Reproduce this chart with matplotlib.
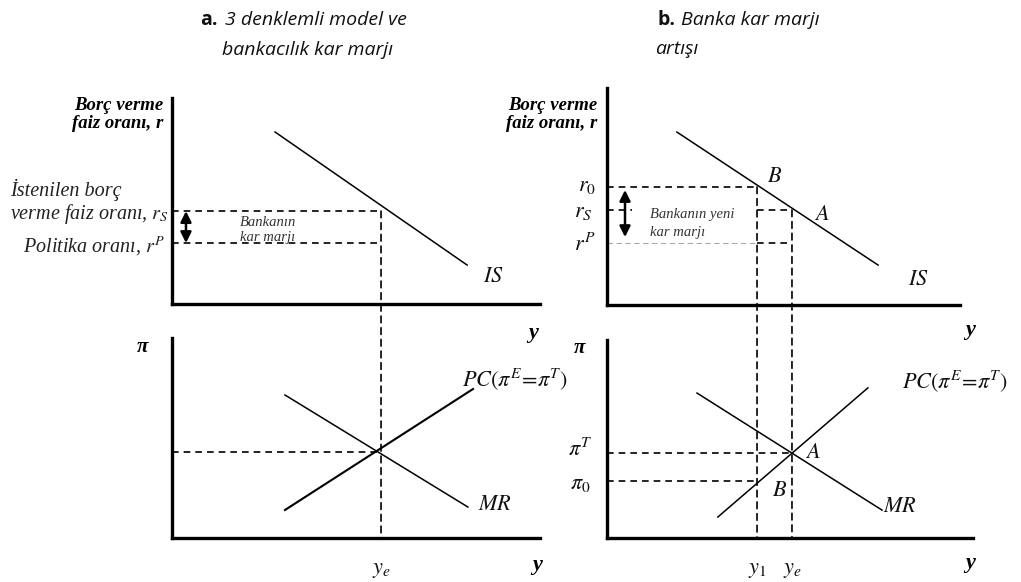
import matplotlib.pyplot as plt
from matplotlib.patches import ConnectionPatch

plt.rcParams['mathtext.fontset'] = 'stix'
plt.rcParams['font.family'] = ['Liberation Serif', 'DejaVu Serif']

W, H = 1021, 582

# panel a: IS, PC and MR lines (x = output y, vertical = r or pi)
is_a_y = [2.80, 8.02]
is_a_r = [8.35, 1.89]
pc_a_y = [3.07, 8.18]
pc_a_pi = [1.40, 7.45]
mr_a_y = [3.07, 8.04]
mr_a_pi = [7.15, 1.55]
rS_a, rP_a = 4.51, 2.96
ye_a = 5.68
piT_a = 4.30

# panel b: higher bank margin
is_b_y = [1.98, 7.68]
is_b_r = [7.97, 1.84]
pc_b_y = [3.14, 7.39]
pc_b_pi = [1.06, 7.58]
mr_b_y = [2.55, 7.79]
mr_b_pi = [7.32, 1.41]
r0_b, rS_b, rP_b = 5.44, 4.38, 2.86
y1_b, ye_b = 4.25, 5.24
piT_b, pi0_b = 4.29, 2.88

fig = plt.figure(figsize=(W / 100, H / 100), dpi=100)


def panel(left, top, right, bottom, xmax):
    ax = fig.add_axes([left / W, 1 - bottom / H, (right - left) / W, (bottom - top) / H])
    ax.set_xlim(0, xmax)
    ax.set_ylim(0, 10)
    for s in ('top', 'right'):
        ax.spines[s].set_visible(False)
    for s in ('left', 'bottom'):
        ax.spines[s].set_linewidth(2.4)
    ax.set_xticks([])
    ax.set_yticks([])
    ax.patch.set_alpha(0)
    return ax


def ftext(x, y, s, **kw):
    # text placed in pixel position on the figure
    kw.setdefault('va', 'center')
    fig.text(x / W, 1 - y / H, s, **kw)


ax_at = panel(172, 98, 540, 304, 10)
ax_ab = panel(172, 338, 540, 538, 10)
ax_bt = panel(607, 88, 960, 305, 10)
ax_bb = panel(607, 340, 973, 538, 366 / 35.3)

dash = dict(color='black', lw=1.2, ls=(0, (4, 3)))
arrow = dict(arrowstyle='<|-|>', color='black', lw=1.8, mutation_scale=16,
             shrinkA=0, shrinkB=0)

# ---- panel a, top
ax_at.plot(is_a_y, is_a_r, color='black', lw=1.1)
ax_at.plot([0, ye_a], [rS_a, rS_a], **dash)
ax_at.plot([0, ye_a], [rP_a, rP_a], **dash)
ax_at.annotate('', xy=(0.38, rP_a), xytext=(0.38, rS_a), arrowprops=arrow)
ax_at.text(1.85, rS_a - 0.55, 'Bankanın', fontsize=10.5, style='italic',
           color='#333', va='center')
ax_at.text(1.85, rP_a + 0.25, 'kar marjı', fontsize=10.5, style='italic',
           color='#333', va='center')

# ---- panel a, bottom
ax_ab.plot(pc_a_y, pc_a_pi, color='black', lw=1.5)
ax_ab.plot(mr_a_y, mr_a_pi, color='black', lw=1.1)
ax_ab.plot([0, ye_a], [piT_a, piT_a], **dash)
fig.add_artist(ConnectionPatch(xyA=(ye_a, rS_a), coordsA=ax_at.transData,
                               xyB=(ye_a, 0), coordsB=ax_ab.transData,
                               arrowstyle='-', **dash))

# ---- panel b, top
ax_bt.plot(is_b_y, is_b_r, color='black', lw=1.1)
ax_bt.plot([0, y1_b], [r0_b, r0_b], **dash)
ax_bt.plot([0, 0.7], [rS_b, rS_b], **dash)
ax_bt.plot([y1_b, ye_b], [rS_b, rS_b], **dash)
ax_bt.plot([0, y1_b], [rP_b, rP_b], color='#aaa', lw=0.8, ls=(0, (5, 3)))
ax_bt.plot([y1_b, ye_b], [rP_b, rP_b], **dash)
ax_bt.annotate('', xy=(0.51, 3.13), xytext=(0.51, 5.30), arrowprops=arrow)
ax_bt.text(1.22, 4.15, 'Bankanın yeni', fontsize=10.5, style='italic',
           color='#333', va='center')
ax_bt.text(1.22, 3.35, 'kar marjı', fontsize=10.5, style='italic',
           color='#333', va='center')

# ---- panel b, bottom
ax_bb.plot(pc_b_y, pc_b_pi, color='black', lw=1.1)
ax_bb.plot(mr_b_y, mr_b_pi, color='black', lw=1.1)
ax_bb.plot([0, ye_b], [piT_b, piT_b], **dash)
ax_bb.plot([0, y1_b], [pi0_b, pi0_b], **dash)
fig.add_artist(ConnectionPatch(xyA=(y1_b, r0_b), coordsA=ax_bt.transData,
                               xyB=(y1_b, 0), coordsB=ax_bb.transData,
                               arrowstyle='-', **dash))
fig.add_artist(ConnectionPatch(xyA=(ye_b, rS_b), coordsA=ax_bt.transData,
                               xyB=(ye_b, 0), coordsB=ax_bb.transData,
                               arrowstyle='-', **dash))

# ---- titles
title_font = dict(family='Open Sans', fontsize=14, color='#111')
ftext(200, 20, 'a.', weight='bold', **title_font)
ftext(225, 20, '3 denklemli model ve', style='italic', **title_font)
ftext(222, 50, 'bankacılık kar marjı', style='italic', **title_font)
ftext(657, 20, 'b.', weight='bold', **title_font)
ftext(681, 20, 'Banka kar marjı', style='italic', **title_font)
ftext(655, 49, 'artışı', style='italic', **title_font)

# ---- axis captions
bi = dict(weight='bold', style='italic', fontsize=13.5)
for x in (163, 597):
    ftext(x, 106, 'Borç verme', ha='right', **bi)
    ftext(x, 123, 'faiz oranı, r', ha='right', **bi)
ftext(143, 347, 'π', ha='center', weight='bold', style='italic', fontsize=15)
ftext(580, 348, 'π', ha='center', weight='bold', style='italic', fontsize=15)
for x, y in ((533, 333), (537, 565), (970, 330), (970, 563)):
    ftext(x, y, 'y', ha='center', weight='bold', style='italic', fontsize=16)

# ---- panel a labels
it = dict(style='italic', fontsize=14.5, color='#222')
ftext(10, 190, 'İstenilen borç', **it)
ftext(10, 214, 'verme faiz oranı, $r_S$', **it)
ftext(165, 246, 'Politika oranı, $r^P$', ha='right', **it)
mt = dict(fontsize=16, color='#111')
ftext(483, 277, '$IS$', **mt)
ftext(462, 380, r'$PC(\pi^E\!=\!\pi^T)$', **mt)
ftext(478, 505, '$MR$', **mt)
ftext(381, 570, '$y_e$', ha='center', **mt)

# ---- panel b labels
ftext(587, 187, '$r_0$', ha='center', **mt)
ftext(583, 213, '$r_S$', ha='center', **mt)
ftext(585, 245, '$r^P$', ha='center', **mt)
ftext(775, 177, '$B$', ha='center', **mt)
ftext(822, 215, '$A$', ha='center', **mt)
ftext(908, 280, '$IS$', **mt)
ftext(580, 450, r'$\pi^T$', ha='center', **mt)
ftext(580, 485, r'$\pi_0$', ha='center', **mt)
ftext(813, 453, '$A$', ha='center', **mt)
ftext(780, 492, '$B$', ha='center', **mt)
ftext(883, 508, '$MR$', **mt)
ftext(902, 382, r'$PC(\pi^E\!=\!\pi^T)$', **mt)
ftext(757, 570, '$y_1$', ha='center', **mt)
ftext(792, 570, '$y_e$', ha='center', **mt)

fig.savefig('out.png', dpi=100, facecolor='white')
